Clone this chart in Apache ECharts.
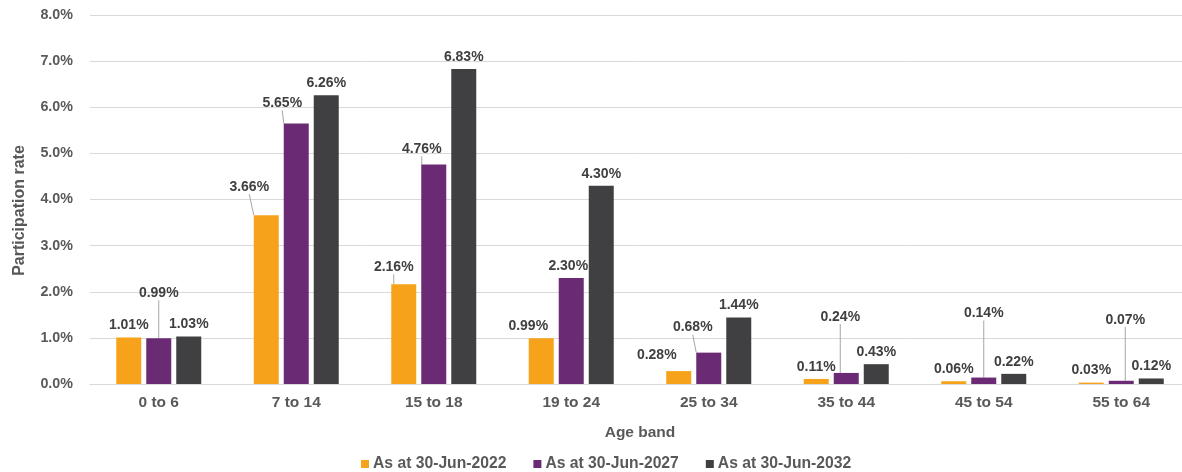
<!DOCTYPE html>
<html>
<head>
<meta charset="utf-8">
<script src="https://cdn.jsdelivr.net/npm/echarts@6/dist/echarts.min.js"></script>
<style>
html,body{margin:0;padding:0;background:#fff;}
#chart{width:1182px;height:472px;}
</style>
</head>
<body>
<div id="chart"></div>
<script>
const categories = ['0 to 6','7 to 14','15 to 18','19 to 24','25 to 34','35 to 44','45 to 54','55 to 64'];
const seriesNames = ['As at 30-Jun-2022','As at 30-Jun-2027','As at 30-Jun-2032'];
const values2022 = [1.01, 3.66, 2.16, 0.99, 0.28, 0.11, 0.06, 0.03];
const values2027 = [0.99, 5.65, 4.76, 2.30, 0.68, 0.24, 0.14, 0.07];
const values2032 = [1.03, 6.26, 6.83, 4.30, 1.44, 0.43, 0.22, 0.12];
const colors = ['#F7A21B', '#6B2A74', '#404042'];

// manual label shifts (px) for labels moved away from default position
const labelShift = {
  '1,0': [0, -33],
  '0,1': [-17, -16],
  '1,1': [-14, -8],
  '0,2': [-10, -5],
  '1,2': [-12, -3],
  '0,3': [-13, 0],
  '1,3': [-3, 0],
  '0,4': [-22, -4],
  '1,4': [-16, -13],
  '1,5': [-6, -44],
  '1,6': [0, -52],
  '1,7': [4, -49]
};
const withLine = {'1,0':1,'0,1':1,'1,1':1,'0,2':1,'1,2':1,'1,4':1,'1,5':1,'1,6':1,'1,7':1};

const chart = echarts.init(document.getElementById('chart'), null, {renderer: 'canvas'});
const allValues = [values2022, values2027, values2032];
const textColor = '#595959';
const fontFam = '"Liberation Sans", Arial, sans-serif';

const series = allValues.map((vals, s) => ({
  name: seriesNames[s],
  type: 'bar',
  barWidth: 25,
  barGap: '20%',
  itemStyle: {color: colors[s]},
  label: {
    show: true,
    position: 'top',
    distance: 5,
    color: '#404040',
    fontWeight: 'bold',
    fontSize: 14,
    fontFamily: fontFam,
    formatter: p => p.value.toFixed(2) + '%'
  },
  labelLine: {show: false, lineStyle: {color: '#a6a6a6', width: 1}},
  labelLayout: function (p) {
    const k = p.seriesIndex + ',' + p.dataIndex;
    const sh = labelShift[k];
    if (sh) return {dx: sh[0], dy: sh[1]};
    return {};
  },
  data: vals.map((v, i) => {
    const k = s + ',' + i;
    const item = {value: v};
    if (withLine[k]) item.labelLine = {show: true, length2: 0, lineStyle: {color: '#a6a6a6', width: 1}};
    return item;
  })
}));

chart.setOption({
  animation: false,
  backgroundColor: '#fff',
  grid: {left: 90, right: -8, top: 15, bottom: 88, containLabel: false, outerBoundsMode: 'none'},
  legend: {
    bottom: 0,
    left: 361,
    padding: 0,
    icon: 'rect',
    itemWidth: 8,
    itemHeight: 8,
    itemGap: 27,
    textStyle: {color: textColor, fontWeight: 'bold', fontSize: 15.7, fontFamily: fontFam, padding: [0, 0, 0, -1]},
    data: seriesNames
  },
  xAxis: {
    type: 'category',
    data: categories,
    name: 'Age band',
    nameLocation: 'middle',
    nameGap: 41,
    nameTextStyle: {color: textColor, fontWeight: 'bold', fontSize: 15.5, fontFamily: fontFam},
    axisLine: {lineStyle: {color: '#d9d9d9'}},
    axisTick: {show: false},
    axisLabel: {color: textColor, fontWeight: 'bold', fontSize: 15.5, fontFamily: fontFam, margin: 11}
  },
  yAxis: {
    type: 'value',
    min: 0,
    max: 8,
    interval: 1,
    name: 'Participation rate',
    nameLocation: 'middle',
    nameGap: 62,
    nameRotate: 90,
    nameTextStyle: {color: textColor, fontWeight: 'bold', fontSize: 16, fontFamily: fontFam, padding: [0, 22, 0, 0]},
    axisLine: {show: false},
    axisTick: {show: false},
    splitLine: {lineStyle: {color: '#d9d9d9'}},
    axisLabel: {color: textColor, fontWeight: 'bold', fontSize: 14.3, fontFamily: fontFam, margin: 17,
      formatter: v => v.toFixed(1) + '%'}
  },
  series: series
});
</script>
</body>
</html>
